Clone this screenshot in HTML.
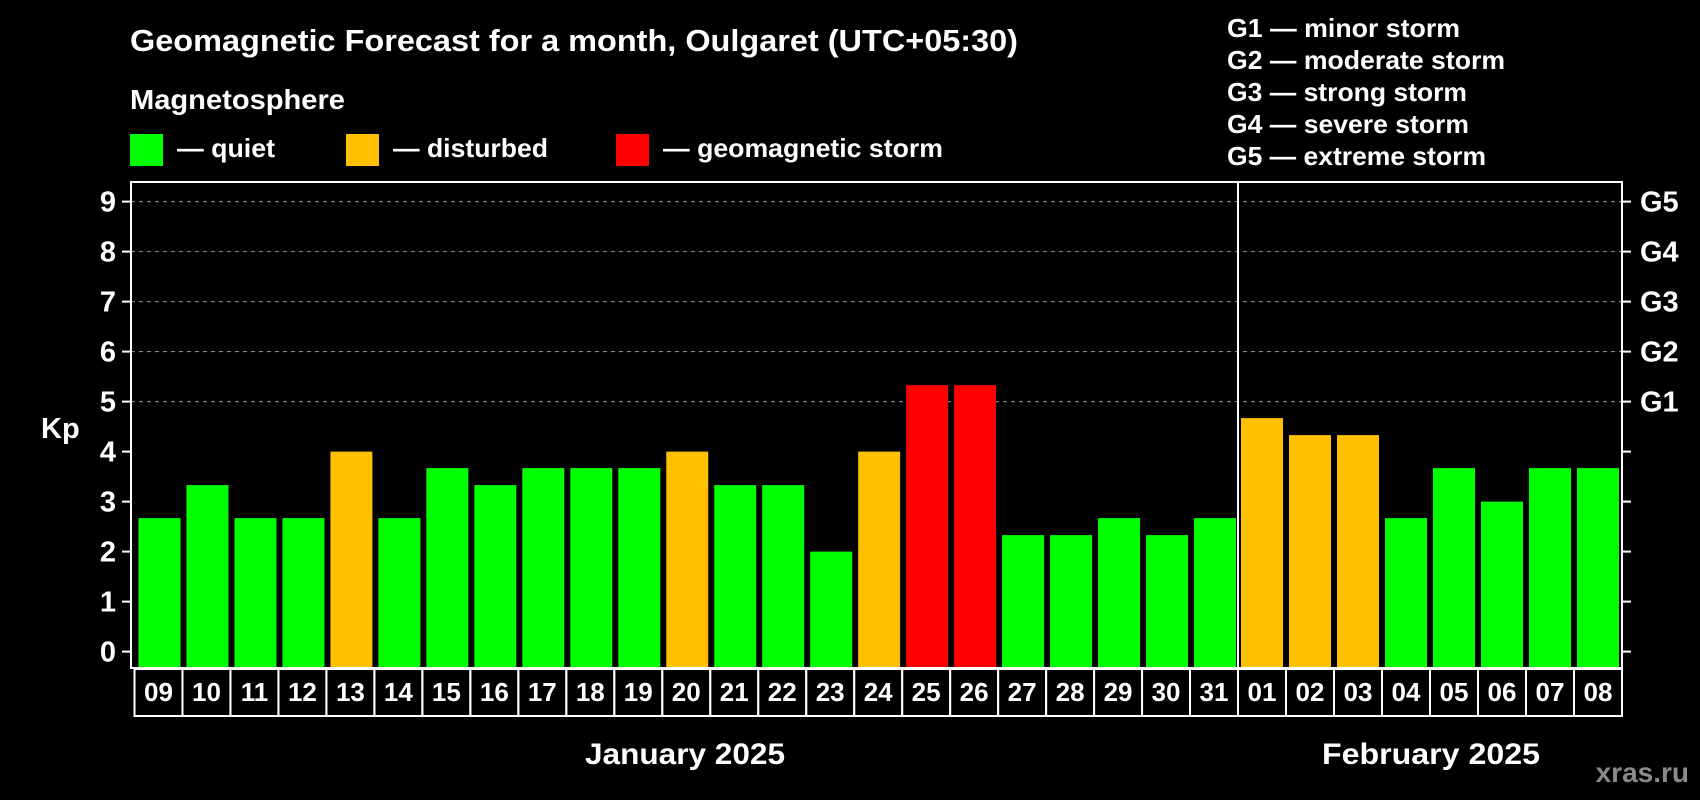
<!DOCTYPE html>
<html><head><meta charset="utf-8"><style>
html,body{margin:0;padding:0;background:#000;width:1700px;height:800px;overflow:hidden}
svg{display:block;font-family:"Liberation Sans",Arial,sans-serif;font-weight:bold}
</style></head><body>
<svg id="chart" width="1700" height="800" viewBox="0 0 1700 800" xmlns="http://www.w3.org/2000/svg">
<rect width="1700" height="800" fill="#000"/>
<text x="130" y="51" fill="#fff" font-size="31" textLength="888" lengthAdjust="spacingAndGlyphs">Geomagnetic Forecast for a month, Oulgaret (UTC+05:30)</text>
<text x="130" y="109" fill="#fff" font-size="28" textLength="215" lengthAdjust="spacingAndGlyphs">Magnetosphere</text>
<g><rect x="130" y="134" width="33" height="32" fill="#00ff00"/><text x="177" y="157" fill="#fff" font-size="26" textLength="98" lengthAdjust="spacingAndGlyphs">— quiet</text></g>
<g><rect x="346" y="134" width="33" height="32" fill="#ffc000"/><text x="393" y="157" fill="#fff" font-size="26" textLength="155" lengthAdjust="spacingAndGlyphs">— disturbed</text></g>
<g><rect x="616" y="134" width="33" height="32" fill="#ff0000"/><text x="663" y="157" fill="#fff" font-size="26" textLength="280" lengthAdjust="spacingAndGlyphs">— geomagnetic storm</text></g>
<g fill="#fff" font-size="26">
<text x="1227" y="37" textLength="233" lengthAdjust="spacingAndGlyphs">G1 — minor storm</text>
<text x="1227" y="69" textLength="278" lengthAdjust="spacingAndGlyphs">G2 — moderate storm</text>
<text x="1227" y="101" textLength="240" lengthAdjust="spacingAndGlyphs">G3 — strong storm</text>
<text x="1227" y="133" textLength="242" lengthAdjust="spacingAndGlyphs">G4 — severe storm</text>
<text x="1227" y="165" textLength="259" lengthAdjust="spacingAndGlyphs">G5 — extreme storm</text>
</g>
<text x="41" y="438" fill="#fff" font-size="29">Kp</text>
<g id="grid"></g><g id="bars"></g><g id="axes"></g><g id="labels"></g>
<text x="685" y="764" fill="#fff" font-size="30" text-anchor="middle" textLength="200" lengthAdjust="spacingAndGlyphs">January 2025</text>
<text x="1431" y="764" fill="#fff" font-size="30" text-anchor="middle" textLength="218" lengthAdjust="spacingAndGlyphs">February 2025</text>
<text x="1689" y="782" fill="#8a8a8a" font-size="28" text-anchor="end">xras.ru</text>
</svg>
<script>
const days = ["09","10","11","12","13","14","15","16","17","18","19","20","21","22","23","24","25","26","27","28","29","30","31","01","02","03","04","05","06","07","08"];
const kp = [2.67,3.33,2.67,2.67,4,2.67,3.67,3.33,3.67,3.67,3.67,4,3.33,3.33,2,4,5.33,5.33,2.33,2.33,2.67,2.33,2.67,4.67,4.33,4.33,2.67,3.67,3,3.67,3.67];
const yTicks = [0,1,2,3,4,5,6,7,8,9];
const gLabels = ["G1","G2","G3","G4","G5"];
const gLevels = [5,6,7,8,9];
const janCount = 23;

const NS="http://www.w3.org/2000/svg";
const L=131,R=1622,T=182,B=668,Y0=651.6,UNIT=50,SEP=1238,START=134.5;
const y=v=>Y0-UNIT*v;
const janStep=(SEP-START)/janCount, febStep=(R-SEP)/(days.length-janCount);
function band(i){return i<janCount?{x:START+i*janStep,w:janStep}:{x:SEP+(i-janCount)*febStep,w:febStep};}
function mk(tag,attrs,parent){const e=document.createElementNS(NS,tag);for(const k in attrs)e.setAttribute(k,attrs[k]);document.getElementById(parent).appendChild(e);return e;}
function color(v){return v>=5?"#ff0000":(v>=4?"#ffc000":"#00ff00");}

gLevels.forEach(v=>{
  const g=mk("line",{x1:L,x2:R,y1:y(v),y2:y(v),stroke:"#999","stroke-width":1,"stroke-dasharray":"4,4"},"grid");
  
  
});
kp.forEach((v,i)=>{
  const b=band(i);
  const bx=i<janCount?b.x+4:b.x+3;
  const r=mk("rect",{x:bx,y:y(v),width:b.w-6,height:B-y(v),fill:color(v)},"bars");
  
  
  const c=mk("rect",{x:b.x,y:669,width:b.w,height:47,fill:"none",stroke:"#fff","stroke-width":2},"labels");
  
  
  const t=mk("text",{x:b.x+b.w/2,y:701,fill:"#fff","font-size":26,"text-anchor":"middle"},"labels");
  t.textContent=days[i];
  
  
});
const fr=mk("rect",{x:L,y:T,width:R-L,height:B-T,fill:"none",stroke:"#fff","stroke-width":2},"axes");


const sp=mk("line",{x1:SEP,x2:SEP,y1:T,y2:B,stroke:"#fff","stroke-width":2},"axes");


yTicks.forEach(v=>{
  const a=mk("line",{x1:122,x2:L,y1:y(v),y2:y(v),stroke:"#fff","stroke-width":2},"axes");
  
  
  const b=mk("line",{x1:R,x2:R+9,y1:y(v),y2:y(v),stroke:"#fff","stroke-width":2},"axes");
  
  
  const t=mk("text",{x:116,y:y(v)+10,fill:"#fff","font-size":29,"text-anchor":"end"},"axes");
  t.textContent=v;
  
  
});
gLabels.forEach((g,i)=>{
  const t=mk("text",{x:1640,y:y(gLevels[i])+10,fill:"#fff","font-size":29},"axes");
  t.textContent=g;
  
  
});
</script>
</body></html>
